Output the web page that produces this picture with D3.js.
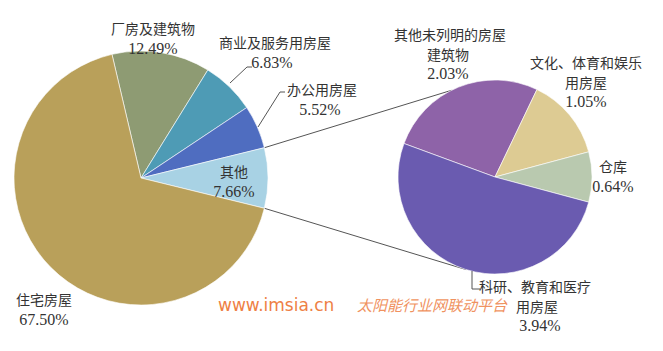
<!DOCTYPE html>
<html>
<head>
<meta charset="utf-8">
<script src="https://cdn.jsdelivr.net/npm/d3@7"></script>
<style>
  body { margin: 0; background: #fff; }
  text { font-family: "Liberation Serif", "Noto Sans CJK SC", serif; fill: #333; }
</style>
</head>
<body>
<div id="chart"></div>
<script>
// main pie data
let main_names  = ['厂房及建筑物', '商业及服务用房屋', '办公用房屋', '其他', '住宅房屋'];
let main_values = [12.49, 6.83, 5.52, 7.66, 67.50];
let main_colors = ['#8E9B73', '#4E9BB5', '#4F6DC0', '#A8D2E4', '#B9A05A'];

// secondary pie data (breakdown of 其他)
let sub_names  = ['其他未列明的房屋建筑物', '文化、体育和娱乐用房屋', '仓库', '科研、教育和医疗用房屋'];
let sub_values = [2.03, 1.05, 0.64, 3.94];
let sub_colors = ['#8E63A8', '#DDCB93', '#B9C9AF', '#6A5BB0'];

let chart_width = 663;
let chart_height = 351;

let svg = d3.select('#chart')
    .append('svg')
    .attr('width', chart_width)
    .attr('height', chart_height);

let main_cx = 141, main_cy = 178, main_r = 127;
let sub_cx = 495, sub_cy = 177, sub_r = 97;

// rotate so 其他 sits at 3 o'clock
let before_other = d3.sum(main_values.slice(0, 3)) + main_values[3] / 2;
let main_start = Math.PI / 2 - before_other / d3.sum(main_values) * 2 * Math.PI;

let main_pie = d3.pie().sort(null)
    .startAngle(main_start)
    .endAngle(main_start + 2 * Math.PI);

let sub_total = d3.sum(sub_values);
let before_store = d3.sum(sub_values.slice(0, 2)) + sub_values[2] / 2;
let sub_start = Math.PI / 2 - before_store / sub_total * 2 * Math.PI;

let sub_pie = d3.pie().sort(null)
    .startAngle(sub_start)
    .endAngle(sub_start + 2 * Math.PI);

let main_arcs = main_pie(main_values);
let sub_arcs = sub_pie(sub_values);

let main_arc = d3.arc().innerRadius(0).outerRadius(main_r);
let sub_arc = d3.arc().innerRadius(0).outerRadius(sub_r);

// connector lines
function pt(cx, cy, r, a) {
    return [cx + r * Math.sin(a), cy - r * Math.cos(a)];
}
let other = main_arcs[3];
let links = [
    [pt(main_cx, main_cy, main_r, other.startAngle), pt(sub_cx, sub_cy, sub_r, -0.148 * Math.PI)],
    [pt(main_cx, main_cy, main_r, other.endAngle), pt(sub_cx, sub_cy, sub_r, -0.904 * Math.PI)]
];

svg.selectAll('.link')
    .data(links)
    .enter()
    .append('line')
    .attr('x1', d => d[0][0])
    .attr('y1', d => d[0][1])
    .attr('x2', d => d[1][0])
    .attr('y2', d => d[1][1])
    .attr('stroke', '#555')
    .attr('stroke-width', 1);

svg.append('g')
    .attr('transform', 'translate(' + main_cx + ',' + main_cy + ')')
    .selectAll('path')
    .data(main_arcs)
    .enter()
    .append('path')
    .attr('d', main_arc)
    .attr('fill', (d, i) => main_colors[i])
    .attr('stroke', '#fff')
    .attr('stroke-width', 0.6);

svg.append('g')
    .attr('transform', 'translate(' + sub_cx + ',' + sub_cy + ')')
    .selectAll('path')
    .data(sub_arcs)
    .enter()
    .append('path')
    .attr('d', sub_arc)
    .attr('fill', (d, i) => sub_colors[i])
    .attr('stroke', '#fff')
    .attr('stroke-width', 0.6);

// leader lines
let leaders = [
    [[230, 83], [247, 67], [252, 67]],
    [[258, 127], [280, 92], [285, 92]],
    [[472, 271], [472, 289], [480, 289]]
];
svg.selectAll('.leader')
    .data(leaders)
    .enter()
    .append('path')
    .attr('d', d => d3.line()(d))
    .attr('fill', 'none')
    .attr('stroke', '#555')
    .attr('stroke-width', 1);

// labels: lines, center x, first baseline y
function fmt(v) { return v.toFixed(2) + '%'; }
let labels = [
    { lines: ['厂房及建筑物', fmt(main_values[0])], x: 153, y: 34, dx: [0, 0] },
    { lines: ['商业及服务用房屋', fmt(main_values[1])], x: 275, y: 48, dx: [0, -3] },
    { lines: ['办公用房屋', fmt(main_values[2])], x: 322, y: 95, dx: [0, -2] },
    { lines: ['其他', fmt(main_values[3])], x: 234, y: 177, dx: [0, 0] },
    { lines: ['住宅房屋', fmt(main_values[4])], x: 44, y: 305, dx: [0, 0] },
    { lines: ['其他未列明的房屋', '建筑物', fmt(sub_values[0])], x: 450, y: 40, dx: [0, -2, -2] },
    { lines: ['文化、体育和娱乐', '用房屋', fmt(sub_values[1])], x: 586, y: 68, dx: [0, 0, 0] },
    { lines: ['仓库', fmt(sub_values[2])], x: 613, y: 172, dx: [0, 0] },
    { lines: ['科研、教育和医疗', '用房屋', fmt(sub_values[3])], x: 535, y: 292, dx: [0, 2, 5] }
];

let lg = svg.selectAll('.label')
    .data(labels)
    .enter()
    .append('text')
    .attr('text-anchor', 'middle')
    .attr('font-size', 15);

lg.selectAll('tspan')
    .data(d => d.lines.map((t, i) => ({ t: t, x: d.x + d.dx[i], y: d.y + i * 19.5 })))
    .enter()
    .append('tspan')
    .attr('x', d => d.x)
    .attr('y', d => d.y)
    .style('font-family', d => /%/.test(d.t) ? '"Liberation Serif", serif' : '"Noto Sans CJK SC", sans-serif')
    .style('font-size', d => /%/.test(d.t) ? '16px' : '14px')
    .text(d => d.t);

// watermark
svg.append('text')
    .attr('x', 218)
    .attr('y', 311)
    .attr('font-size', 17)
    .style('font-family', '"DejaVu Sans", sans-serif')
    .style('fill', '#EE7F45')
    .text('www.imsia.cn');

svg.append('text')
    .attr('x', 357)
    .attr('y', 311)
    .attr('font-size', 15)
    .style('font-family', '"Noto Sans CJK SC", sans-serif')
    .style('font-style', 'italic')
    .style('fill', '#EE7F45')
    .style('opacity', 0.85)
    .text('太阳能行业网联动平台');
</script>
</body>
</html>
